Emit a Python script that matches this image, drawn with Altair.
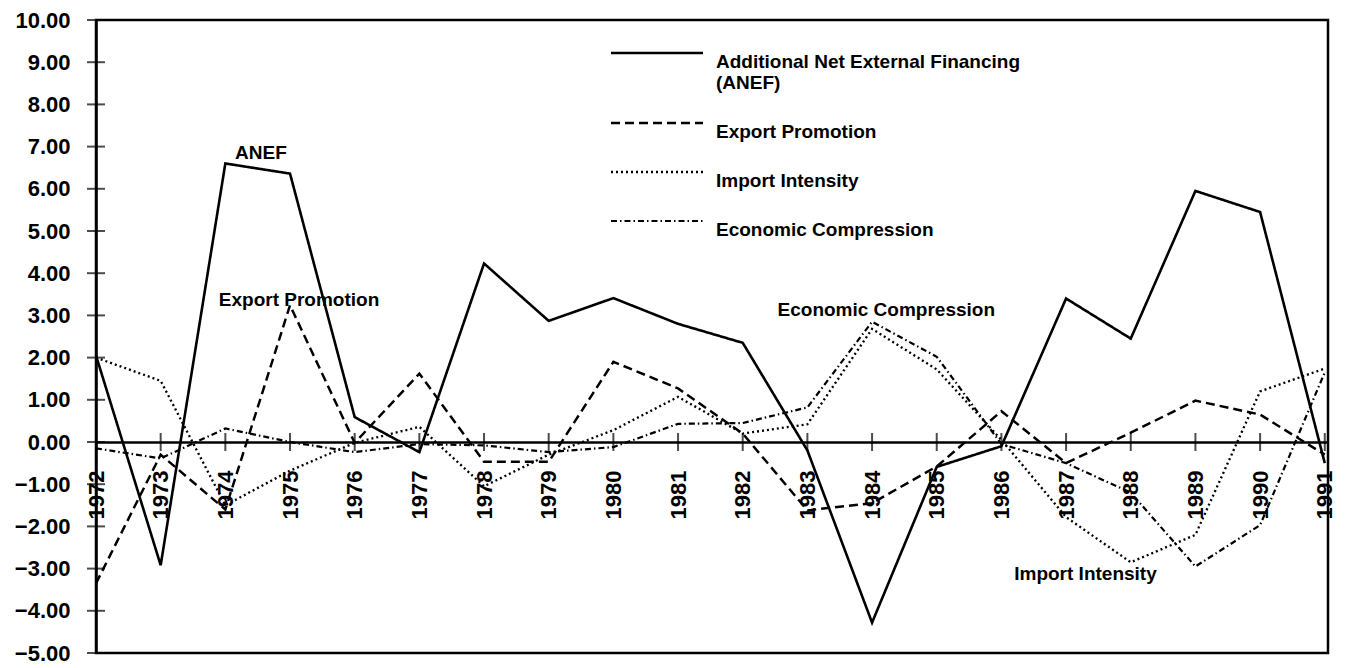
import altair as alt
import pandas as pd

years = [1972, 1973, 1974, 1975, 1976, 1977, 1978, 1979, 1980, 1981,
         1982, 1983, 1984, 1985, 1986, 1987, 1988, 1989, 1990, 1991]
anef = [2.05, -2.92, 6.60, 6.36, 0.59, -0.24, 4.23, 2.87, 3.41, 2.80,
        2.35, -0.20, -4.28, -0.59, -0.10, 3.40, 2.45, 5.95, 5.45, -0.50]
export_promotion = [-3.35, -0.30, -1.60, 3.24, -0.02, 1.62, -0.47, -0.47, 1.90, 1.27,
                    0.20, -1.62, -1.45, -0.58, 0.73, -0.50, 0.22, 0.98, 0.65, -0.30]
import_intensity = [2.00, 1.45, -1.50, -0.68, -0.02, 0.36, -1.05, -0.30, 0.28, 1.07,
                    0.20, 0.42, 2.68, 1.72, 0.05, -1.78, -2.85, -2.20, 1.20, 1.74]
economic_compression = [-0.15, -0.39, 0.32, 0.00, -0.24, -0.05, -0.08, -0.24, -0.12, 0.43,
                        0.45, 0.82, 2.85, 2.02, -0.05, -0.50, -1.20, -2.95, -1.97, 1.65]

series_names = ["ANEF", "Export Promotion", "Import Intensity", "Economic Compression"]
series_values = [anef, export_promotion, import_intensity, economic_compression]

y_tick_values = [-5, -4, -3, -2, -1, 0, 1, 2, 3, 4, 5, 6, 7, 8, 9, 10]

ann_labels = ["ANEF", "Export Promotion", "Economic Compression", "Import Intensity"]
ann_years = [1974.55, 1975.14, 1984.22, 1987.3]
ann_values = [6.84, 3.36, 3.12, -3.13]

rows = []
for name, vals in zip(series_names, series_values):
    for yr, v in zip(years, vals):
        rows.append({"year": yr, "value": v, "series": name})
df = pd.DataFrame(rows)
ann_df = pd.DataFrame({"label": ann_labels, "year": ann_years, "value": ann_values})
ytick_df = pd.DataFrame({"year": [years[0]] * len(y_tick_values), "value": y_tick_values})
xtick_df = pd.DataFrame({"year": years, "value": [0] * len(years)})

W, H = 1232, 633
FONT = "Liberation Sans"

x_scale = alt.Scale(domain=[1972, 1991.05], nice=False, zero=False)
y_scale = alt.Scale(domain=[-5, 10], nice=False, zero=False)

dashes = [[1, 0], [9, 5], [2, 3], [6, 3, 1.5, 3]]
widths = [2.6, 2.2, 1.2, 2.0]

legend = alt.Legend(
    orient="none", legendX=548, legendY=20, title=None,
    symbolType="M-4,0H4", symbolSize=529, symbolStrokeColor="black",
    symbolFillColor="transparent",
    labelFont=FONT, labelFontSize=19, labelFontWeight="bold", labelColor="black",
    labelOffset=46, labelLimit=0, labelBaseline="top", rowPadding=17,
    labelExpr="datum.label == 'ANEF' ? ['Additional Net External Financing', '(ANEF)'] : datum.label",
)

lines = alt.Chart(df).mark_line(color="black").encode(
    x=alt.X("year:Q", scale=x_scale,
            axis=alt.Axis(orient="bottom", offset=-H * 5 / 15, values=years, format="d",
                          labelAngle=270, labelPadding=28, ticks=False, tickSize=0,
                          domain=True, domainColor="black", domainWidth=2.5,
                          grid=False, title=None, labelFont=FONT, labelFontSize=22,
                          labelFontWeight="bold", labelColor="black", labelFlush=False,
                          labelOverlap=False)),
    y=alt.Y("value:Q", scale=y_scale,
            axis=alt.Axis(values=y_tick_values, format=".2f", ticks=False, tickSize=0,
                          labelPadding=26, domainColor="black", domainWidth=2.5,
                          grid=False, title=None, labelFont=FONT, labelFontSize=22,
                          labelFontWeight="bold", labelColor="black", labelFlush=False,
                          labelOverlap=False)),
    strokeDash=alt.StrokeDash("series:O", scale=alt.Scale(domain=series_names, range=dashes),
                              legend=legend),
    strokeWidth=alt.StrokeWidth("series:O", scale=alt.Scale(domain=series_names, range=widths),
                                legend=legend),
    order="year:Q",
)

yticks = alt.Chart(ytick_df).mark_tick(color="black", orient="horizontal", size=18, thickness=2).encode(
    x=alt.X("year:Q", scale=x_scale), y=alt.Y("value:Q", scale=y_scale))
xticks = alt.Chart(xtick_df).mark_tick(color="black", orient="vertical", size=18, thickness=2).encode(
    x=alt.X("year:Q", scale=x_scale), y=alt.Y("value:Q", scale=y_scale))

ann = alt.Chart(ann_df).mark_text(font=FONT, fontSize=19, fontWeight="bold", color="black",
                                  align="center", baseline="middle").encode(
    x=alt.X("year:Q", scale=x_scale), y=alt.Y("value:Q", scale=y_scale), text="label:N")

chart = alt.layer(lines, yticks, xticks, ann).properties(
    width=W, height=H,
    autosize=alt.AutoSizeParams(type="none"),
    padding={"left": 88, "top": 12, "right": 9, "bottom": 14},
    background="white",
).configure_view(stroke="black", strokeWidth=2.5)

chart.save("out.html", embed_options={"renderer": "svg", "actions": False})
